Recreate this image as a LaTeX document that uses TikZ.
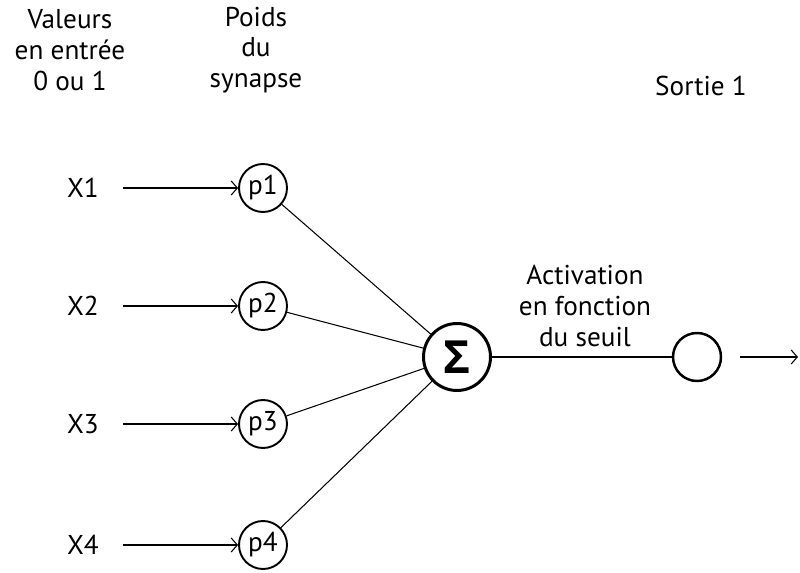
\documentclass[tikz,border=0pt]{standalone}
\usepackage{fontspec}
\setmainfont{PT Sans}
\newfontfamily\sigmafont{Open Sans}
\usetikzlibrary{arrows.meta}
\begin{document}
\begin{tikzpicture}[x=0.02cm,y=-0.02cm,line width=0.6pt,>={Straight Barb[length=3.5pt,width=8pt]}]
  \tikzset{
    lbl/.style={align=center,inner sep=0pt,font=\fontsize{15.5}{17.5}\selectfont},
    poids/.style={circle,draw,line width=1.1pt,minimum size=0.96cm,inner sep=0pt,font=\fontsize{15.5}{17.5}\selectfont},
    somme/.style={circle,draw,line width=1.7pt,minimum size=1.34cm,inner sep=0pt,font=\fontsize{26}{26}\sigmafont\bfseries},
    sortie/.style={circle,draw,line width=1.4pt,minimum size=0.96cm,inner sep=0pt},
    entree/.style={->,shorten <=0.48cm}
  }
  \useasboundingbox (0,0) rectangle (800,573);
  % titres
  \node[lbl] (hval) at (70,50) {Valeurs\\en entrée\\0 ou 1};
  \node[lbl] (hpoids) at (256,50) {Poids\\du\\synapse};
  \node[lbl] (hsortie) at (701,86) {Sortie 1};
  \node[lbl] (act) at (585,306) {Activation\\en fonction\\du seuil};
  % entrees
  \node[lbl] (x1) at (83,188) {X1};
  \node[lbl] (x2) at (83,306) {X2};
  \node[lbl] (x3) at (83,424) {X3};
  \node[lbl] (x4) at (83,545) {X4};
  % poids
  \node[poids] (p1) at (263,188) {p1};
  \node[poids] (p2) at (263,306) {p2};
  \node[poids] (p3) at (263,424) {p3};
  \node[poids] (p4) at (263,545) {p4};
  \node[somme] (s) at (457,357) {Σ};
  \node[sortie] (out) at (697,357) {};
  \coordinate (fin) at (798,357);
  \draw [entree] (x1) -- (p1);
  \draw [entree] (x2) -- (p2);
  \draw [entree] (x3) -- (p3);
  \draw [entree] (x4) -- (p4);
  \draw (p1) -- (s);
  \draw (p2) -- (s);
  \draw (p3) -- (s);
  \draw (p4) -- (s);
  \draw (s) -- (out);
  \draw [->,shorten <=0.36cm] (out) -- (fin);
\end{tikzpicture}
\end{document}
